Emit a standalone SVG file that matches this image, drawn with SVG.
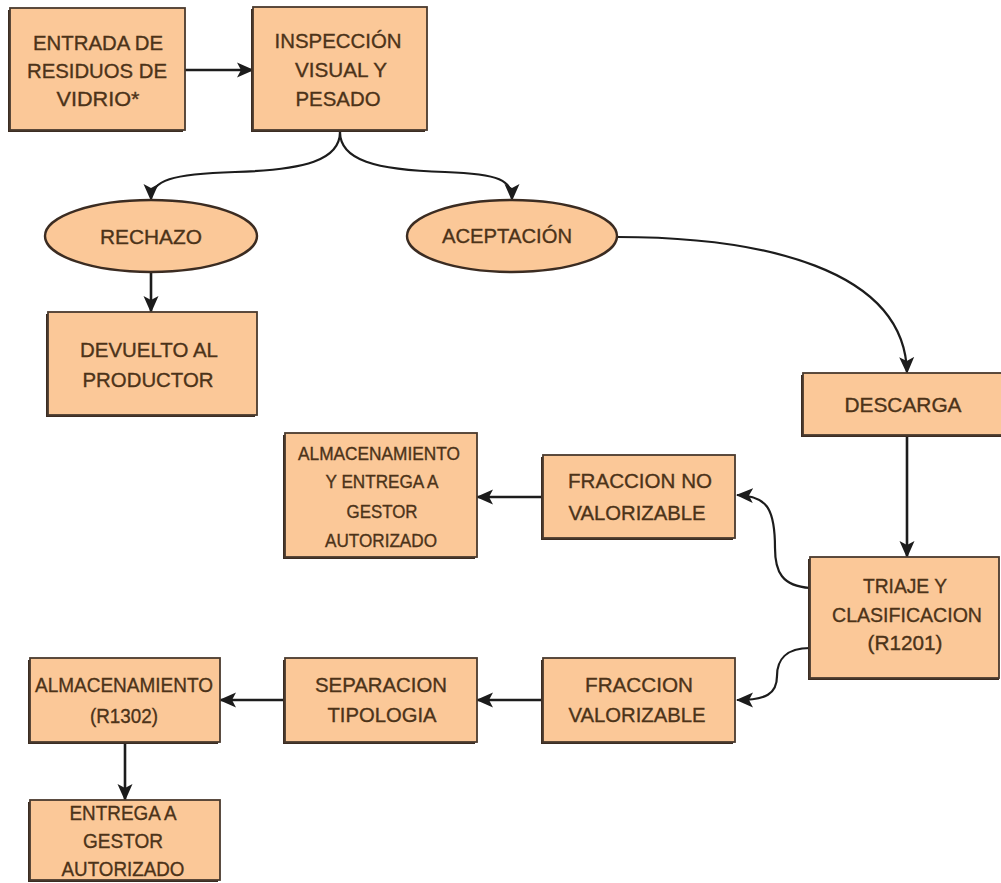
<svg xmlns="http://www.w3.org/2000/svg" width="1001" height="883" viewBox="0 0 1001 883">
<style>
.shadow{fill:#3b2c22}
.box{fill:#fbc898;stroke:#4a3a2e;stroke-width:1.8}
.ell{fill:#fbc898;stroke:#3b2c22;stroke-width:2.4}
.t{font-family:"Liberation Sans",Arial,sans-serif;font-size:21px;fill:#4c3319;stroke:#4c3319;stroke-width:0.35;text-anchor:middle}
.s{font-size:18px}
.c{fill:none;stroke:#1c1c1c;stroke-width:2.6}
.cc{fill:none;stroke:#1c1c1c;stroke-width:2.2}
</style>
<defs>
<marker id="ah" markerUnits="userSpaceOnUse" markerWidth="18" markerHeight="16" refX="16" refY="8" orient="auto" viewBox="0 0 18 16">
<path d="M0,0.5 L17,8 L0,15.5 L4,8 z" fill="#1c1c1c"/>
</marker>
</defs>
<rect width="1001" height="883" fill="#ffffff"/>

<g id="connectors">
<path class="c" d="M185,70 L253,70" marker-end="url(#ah)"/>
<path class="cc" d="M340,132 C340,160 305,170 235,172 C172,174 151,180 151,200" marker-end="url(#ah)"/>
<path class="cc" d="M340,132 C340,160 375,170 445,172 C500,174 512,180 512,200" marker-end="url(#ah)"/>
<path class="c" d="M151,272 L151,312" marker-end="url(#ah)"/>
<path class="cc" d="M617,237 C760,237 905,268 907,373" marker-end="url(#ah)"/>
<path class="c" d="M907,435 L907,557" marker-end="url(#ah)"/>
<path class="cc" d="M810,588 C782,586 775,572 775,548 C775,507 766,496 737,495" marker-end="url(#ah)"/>
<path class="cc" d="M810,648 C786,648 777,660 777,676 C777,694 766,700 737,700" marker-end="url(#ah)"/>
<path class="c" d="M543,497 L477,497" marker-end="url(#ah)"/>
<path class="c" d="M543,700 L477,700" marker-end="url(#ah)"/>
<path class="c" d="M285,700 L220,700" marker-end="url(#ah)"/>
<path class="c" d="M125,742 L125,800" marker-end="url(#ah)"/>
</g>

<g id="entrada">
<rect class="shadow" x="8" y="10" width="175" height="122"/>
<rect class="box" x="10" y="8" width="175" height="122"/>
<text class="t" x="98" y="50" textLength="130" lengthAdjust="spacingAndGlyphs">ENTRADA DE</text>
<text class="t" x="97" y="78" textLength="140" lengthAdjust="spacingAndGlyphs">RESIDUOS DE</text>
<text class="t" x="98" y="106" textLength="83" lengthAdjust="spacingAndGlyphs">VIDRIO*</text>
</g>

<g id="inspeccion">
<rect class="shadow" x="251" y="9" width="174" height="123"/>
<rect class="box" x="253" y="7" width="174" height="123"/>
<text class="t" x="338" y="48" textLength="127" lengthAdjust="spacingAndGlyphs">INSPECCIÓN</text>
<text class="t" x="341" y="77" textLength="92" lengthAdjust="spacingAndGlyphs">VISUAL Y</text>
<text class="t" x="338" y="106" textLength="85" lengthAdjust="spacingAndGlyphs">PESADO</text>
</g>

<g id="rechazo">
<ellipse class="ell" cx="151" cy="236" rx="106" ry="36"/>
<text class="t" x="151" y="244" textLength="102" lengthAdjust="spacingAndGlyphs">RECHAZO</text>
</g>

<g id="aceptacion">
<ellipse class="ell" cx="512" cy="236" rx="105" ry="36"/>
<text class="t" x="507" y="243" textLength="130" lengthAdjust="spacingAndGlyphs">ACEPTACIÓN</text>
</g>

<g id="devuelto">
<rect class="shadow" x="46" y="314" width="209" height="103"/>
<rect class="box" x="48" y="312" width="209" height="103"/>
<text class="t" x="149" y="357" textLength="138" lengthAdjust="spacingAndGlyphs">DEVUELTO AL</text>
<text class="t" x="148" y="387" textLength="131" lengthAdjust="spacingAndGlyphs">PRODUCTOR</text>
</g>

<g id="descarga">
<rect class="shadow" x="801" y="375" width="201" height="62"/>
<rect class="box" x="803" y="373" width="199" height="62"/>
<text class="t" x="903" y="412" textLength="117" lengthAdjust="spacingAndGlyphs">DESCARGA</text>
</g>

<g id="triaje">
<rect class="shadow" x="808" y="559" width="191" height="121"/>
<rect class="box" x="810" y="557" width="189" height="121"/>
<text class="t" x="905" y="593" textLength="84" lengthAdjust="spacingAndGlyphs">TRIAJE Y</text>
<text class="t" x="907" y="622" textLength="150" lengthAdjust="spacingAndGlyphs">CLASIFICACION</text>
<text class="t" x="905" y="650" textLength="75" lengthAdjust="spacingAndGlyphs">(R1201)</text>
</g>

<g id="fraccion-no-valorizable">
<rect class="shadow" x="541" y="457" width="192" height="83"/>
<rect class="box" x="543" y="455" width="192" height="83"/>
<text class="t" x="640" y="488" textLength="144" lengthAdjust="spacingAndGlyphs">FRACCION NO</text>
<text class="t" x="637" y="520" textLength="137" lengthAdjust="spacingAndGlyphs">VALORIZABLE</text>
</g>

<g id="almacenamiento-entrega">
<rect class="shadow" x="283" y="435" width="192" height="124"/>
<rect class="box" x="285" y="433" width="192" height="124"/>
<text class="t s" x="379" y="460" textLength="162" lengthAdjust="spacingAndGlyphs">ALMACENAMIENTO</text>
<text class="t s" x="382" y="488" textLength="113" lengthAdjust="spacingAndGlyphs">Y ENTREGA A</text>
<text class="t s" x="382" y="518" textLength="71" lengthAdjust="spacingAndGlyphs">GESTOR</text>
<text class="t s" x="381" y="547" textLength="112" lengthAdjust="spacingAndGlyphs">AUTORIZADO</text>
</g>

<g id="fraccion-valorizable">
<rect class="shadow" x="541" y="660" width="192" height="84"/>
<rect class="box" x="543" y="658" width="192" height="84"/>
<text class="t" x="639" y="692" textLength="108" lengthAdjust="spacingAndGlyphs">FRACCION</text>
<text class="t" x="637" y="722" textLength="137" lengthAdjust="spacingAndGlyphs">VALORIZABLE</text>
</g>

<g id="separacion">
<rect class="shadow" x="283" y="660" width="192" height="84"/>
<rect class="box" x="285" y="658" width="192" height="84"/>
<text class="t" x="381" y="692" textLength="132" lengthAdjust="spacingAndGlyphs">SEPARACION</text>
<text class="t" x="382" y="722" textLength="109" lengthAdjust="spacingAndGlyphs">TIPOLOGIA</text>
</g>

<g id="almacenamiento-r1302">
<rect class="shadow" x="28" y="660" width="190" height="84"/>
<rect class="box" x="30" y="658" width="190" height="84"/>
<text class="t" x="124" y="692" textLength="178" lengthAdjust="spacingAndGlyphs">ALMACENAMIENTO</text>
<text class="t" x="124" y="723" textLength="68" lengthAdjust="spacingAndGlyphs">(R1302)</text>
</g>

<g id="entrega">
<rect class="shadow" x="28" y="802" width="190" height="80"/>
<rect class="box" x="30" y="800" width="190" height="80"/>
<text class="t" x="123" y="820" textLength="107" lengthAdjust="spacingAndGlyphs">ENTREGA A</text>
<text class="t" x="123" y="848" textLength="80" lengthAdjust="spacingAndGlyphs">GESTOR</text>
<text class="t" x="123" y="876" textLength="123" lengthAdjust="spacingAndGlyphs">AUTORIZADO</text>
</g>
</svg>
